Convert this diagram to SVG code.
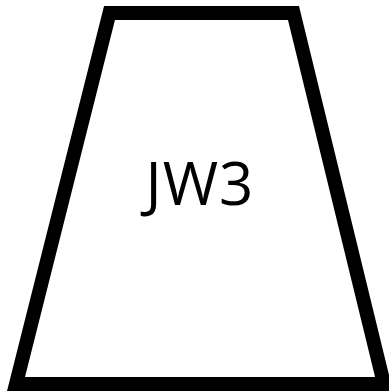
<svg xmlns="http://www.w3.org/2000/svg" width="389" height="392" viewBox="0 0 389 392">
<style>
.shape{fill:#ffffff;stroke:#000000;stroke-width:14;stroke-linejoin:miter;stroke-miterlimit:10}
.label{font-family:"Open Sans","Liberation Sans",sans-serif;font-size:60px;fill:#000000;text-anchor:middle;letter-spacing:1px}
</style>
<rect width="389" height="392" fill="#ffffff"/>
<g id="connectors"></g>
<g id="node-jw3">
<polygon class="shape" points="109.5,13 293.5,13 384,384 16,384"/>
<text class="label" x="200" y="205">JW3</text>
</g>
</svg>
